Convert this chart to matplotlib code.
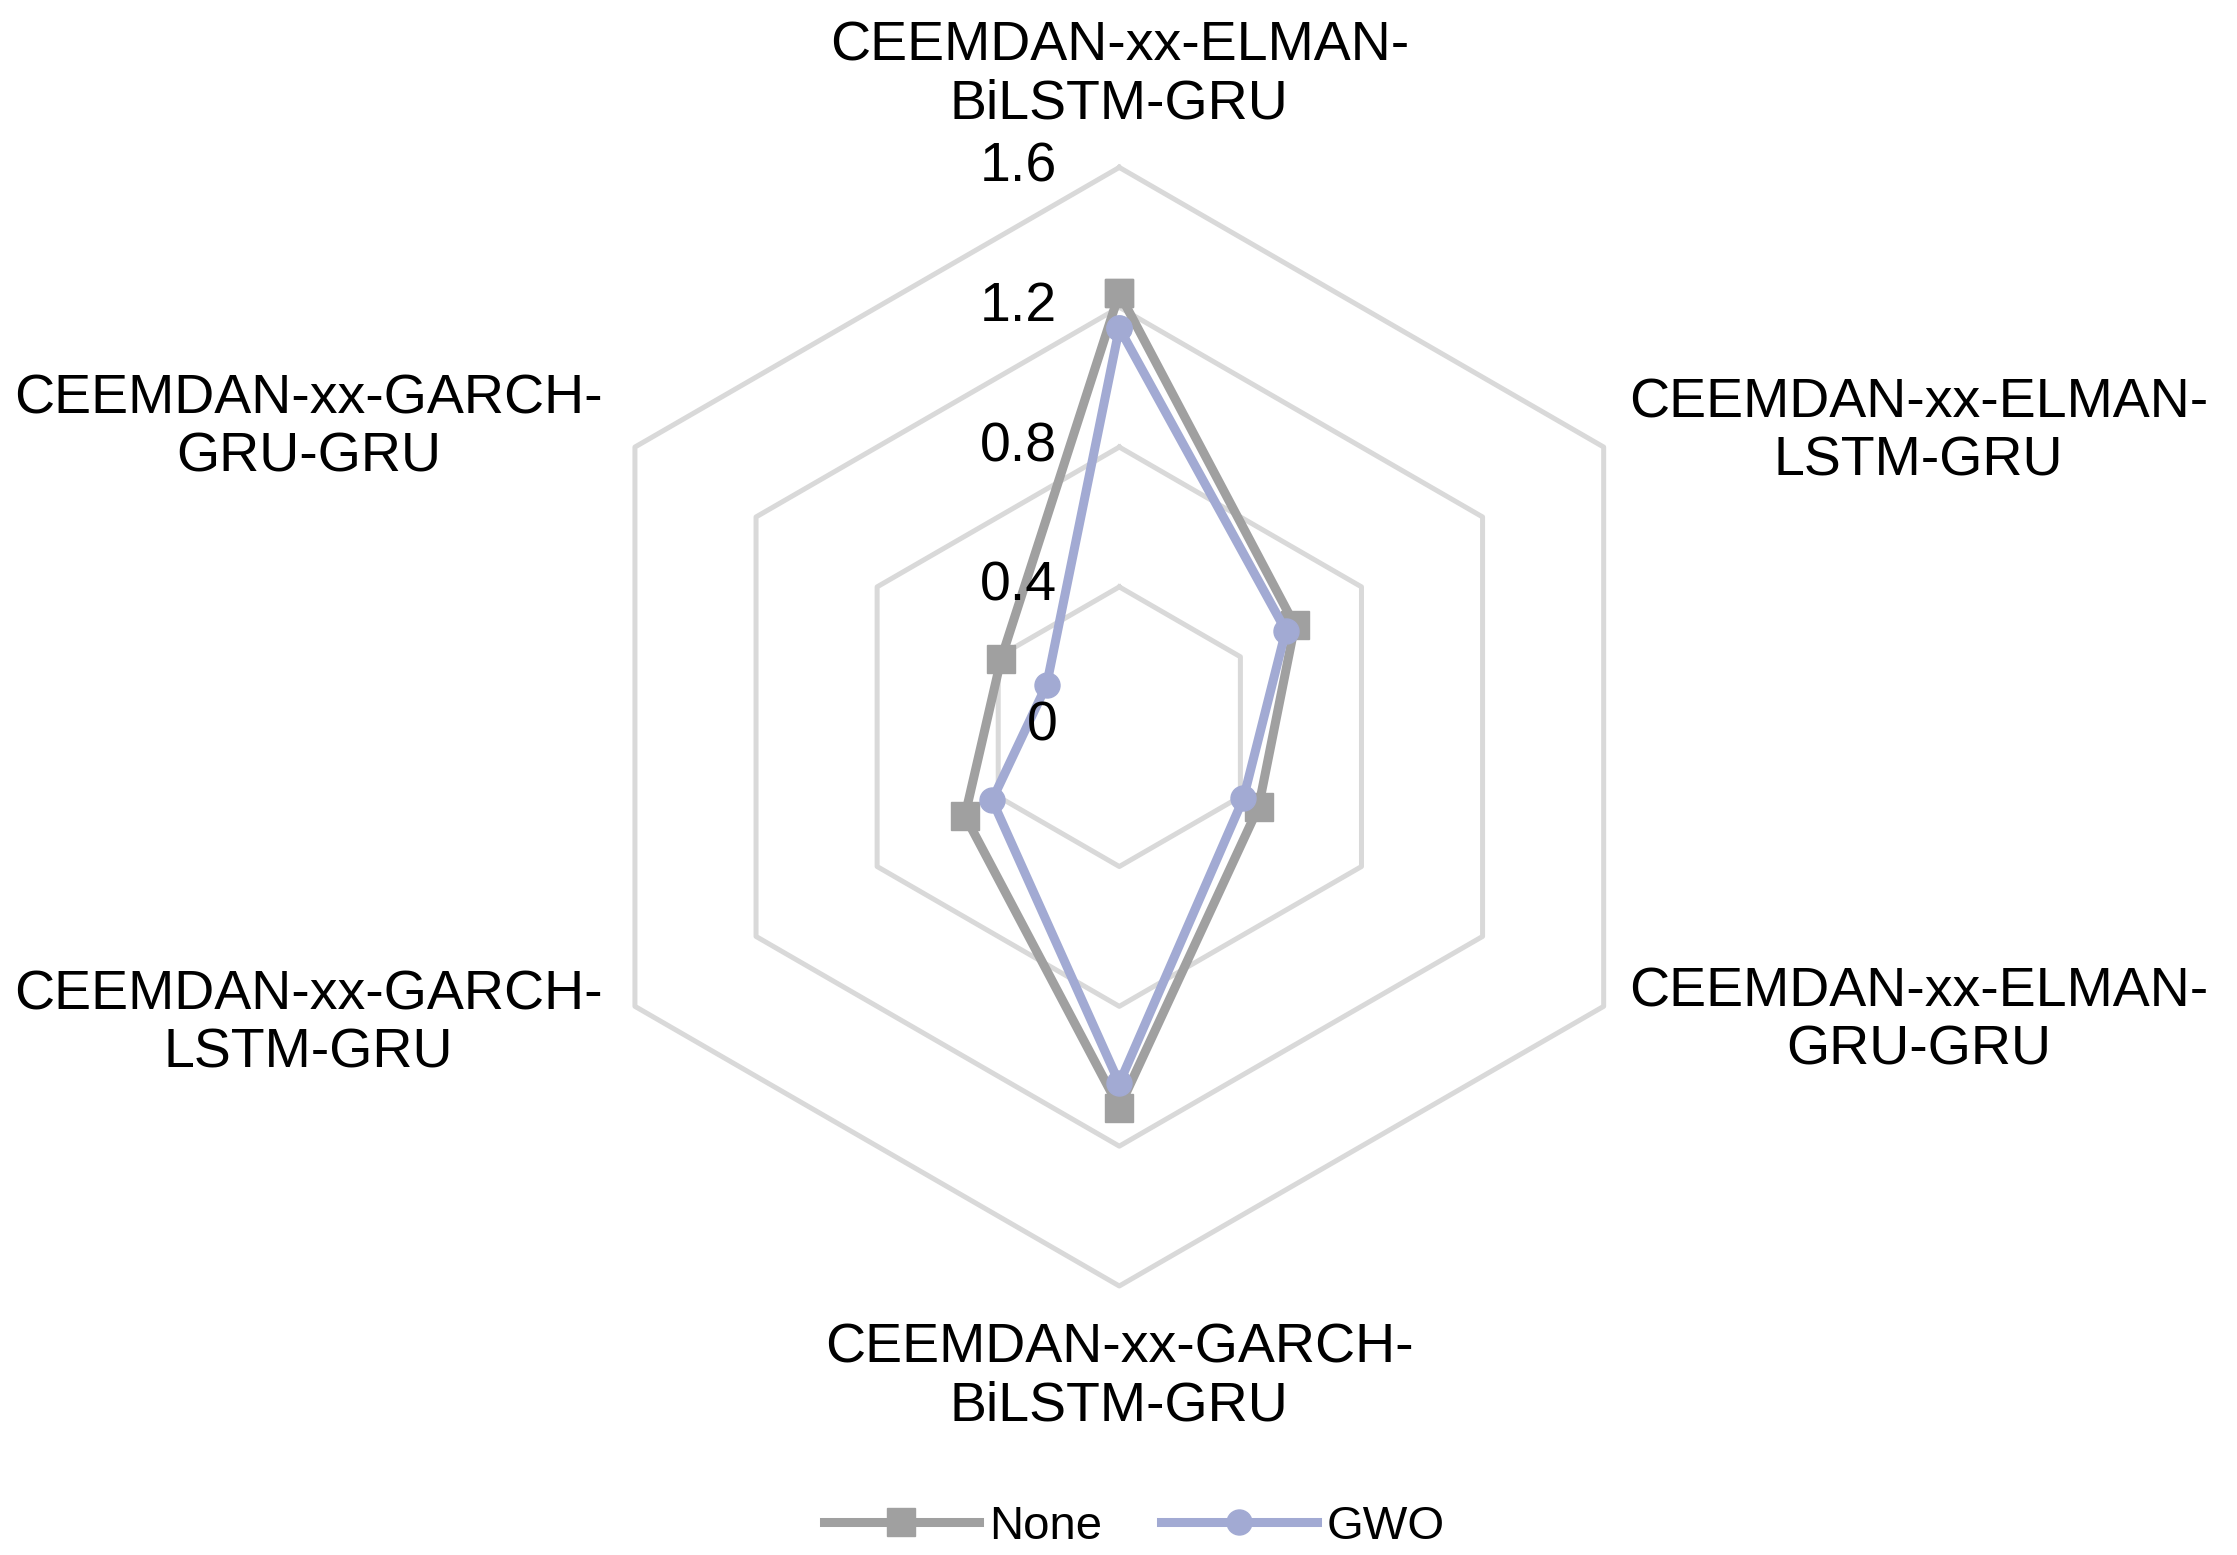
import numpy as np
from matplotlib import pyplot as plt

categories = [
    "CEEMDAN-xx-ELMAN-\nBiLSTM-GRU",
    "CEEMDAN-xx-ELMAN-\nLSTM-GRU",
    "CEEMDAN-xx-ELMAN-\nGRU-GRU",
    "CEEMDAN-xx-GARCH-\nBiLSTM-GRU",
    "CEEMDAN-xx-GARCH-\nLSTM-GRU",
    "CEEMDAN-xx-GARCH-\nGRU-GRU",
]
none_values = [1.24, 0.58, 0.46, 1.09, 0.51, 0.39]
gwo_values = [1.14, 0.55, 0.41, 1.02, 0.42, 0.24]
ring_ticks = [0, 0.4, 0.8, 1.2, 1.6]
ring_labels = ["0", "0.4", "0.8", "1.2", "1.6"]


def plot_radar():
    plt.rcParams["font.family"] = ["Liberation Sans", "DejaVu Sans"]
    fig = plt.figure(figsize=(22.37, 15.55), dpi=100)
    ax = fig.add_axes([0.25034, 0.17299, 0.50004, 0.71936], projection="polar")
    ax.set_theta_offset(np.pi / 2)
    ax.set_theta_direction(-1)
    ax.set_ylim(0, 1.6)
    ax.grid(False)
    ax.spines["polar"].set_visible(False)
    ax.set_xticks([])
    ax.set_yticks([])

    n = len(categories)
    angles = np.linspace(0, 2 * np.pi, n, endpoint=False)
    closed = np.append(angles, angles[0])

    # hexagon grid
    for r in ring_ticks[1:]:
        ax.plot(closed, [r] * (n + 1), color="#d9d9d9", lw=3.6, zorder=1, clip_on=False)

    for r, lbl in zip(ring_ticks, ring_labels):
        ax.annotate(lbl, xy=(0, r), xytext=(-62, 0), textcoords="offset pixels",
                    ha="right", va="center", fontsize=40, annotation_clip=False, zorder=6)

    ax.plot(closed, none_values + none_values[:1], color="#a0a0a0", lw=6.5, marker="s",
            ms=20, label="None", zorder=3, clip_on=False)
    ax.plot(closed, gwo_values + gwo_values[:1], color="#a2aad3", lw=6.5, marker="o",
            ms=18, label="GWO", zorder=4, clip_on=False)

    # category labels
    for a, lbl in zip(angles, categories):
        deg = np.degrees(a)
        if deg < 1 or abs(deg - 180) < 1:
            ax.text(a, 1.863, lbl, ha="center", va="center", fontsize=40,
                    multialignment="center", linespacing=1.15)
        elif deg < 180:
            ax.text(a, 1.684, lbl, ha="left", va="center", fontsize=40,
                    multialignment="center", linespacing=1.15)
        else:
            ax.text(a, 1.706, lbl, ha="right", va="center", fontsize=40,
                    multialignment="center", linespacing=1.15)

    fig.legend(loc="center", bbox_to_anchor=(0.5069, 0.018), ncol=2, frameon=False,
               fontsize=34, handlelength=3.3, handletextpad=0.2, columnspacing=1.25)
    fig.savefig("out.png", dpi=100)


def main():
    plot_radar()


if __name__ == '__main__':
    main()
